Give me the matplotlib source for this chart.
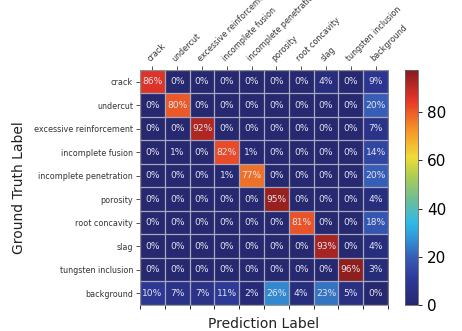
import numpy as np
import matplotlib
matplotlib.use("Agg")
import matplotlib.pyplot as plt
from matplotlib.colors import LinearSegmentedColormap

classes = ["crack", "undercut", "excessive reinforcement", "incomplete fusion",
           "incomplete penetration", "porosity", "root concavity", "slag",
           "tungsten inclusion", "background"]

crack = [86, 0, 0, 0, 0, 0, 0, 4, 0, 9]
undercut = [0, 80, 0, 0, 0, 0, 0, 0, 0, 20]
excessive_reinforcement = [0, 0, 92, 0, 0, 0, 0, 0, 0, 7]
incomplete_fusion = [0, 1, 0, 82, 1, 0, 0, 0, 0, 14]
incomplete_penetration = [0, 0, 0, 1, 77, 0, 0, 0, 0, 20]
porosity = [0, 0, 0, 0, 0, 95, 0, 0, 0, 4]
root_concavity = [0, 0, 0, 0, 0, 0, 81, 0, 0, 18]
slag = [0, 0, 0, 0, 0, 0, 0, 93, 0, 4]
tungsten_inclusion = [0, 0, 0, 0, 0, 0, 0, 0, 96, 3]
background = [10, 7, 7, 11, 2, 26, 4, 23, 5, 0]

matrix = np.array([crack, undercut, excessive_reinforcement, incomplete_fusion,
                   incomplete_penetration, porosity, root_concavity, slag,
                   tungsten_inclusion, background], dtype=float)

# muted jet-style palette
stops = [
    (0.00, (38, 40, 112)),
    (0.11, (46, 58, 152)),
    (0.20, (55, 92, 182)),
    (0.30, (48, 160, 220)),
    (0.35, (48, 185, 230)),
    (0.45, (110, 190, 150)),
    (0.55, (175, 205, 80)),
    (0.63, (240, 220, 55)),
    (0.75, (245, 145, 40)),
    (0.87, (230, 55, 40)),
    (1.00, (135, 28, 30)),
]
cmap = LinearSegmentedColormap.from_list(
    "muted_jet", [(p, tuple(v / 255 for v in c)) for p, c in stops])

fig = plt.figure(figsize=(4.62, 3.31), dpi=100)
ax = fig.add_axes([0.303, 0.079, 0.537, 0.7095])
cax = fig.add_axes([0.877, 0.079, 0.028, 0.7095])

im = ax.imshow(matrix, cmap=cmap, vmin=0, vmax=97.5, aspect="auto")

n = len(classes)
ax.set_xticks(np.arange(n))
ax.set_yticks(np.arange(n))
ax.set_xticklabels(classes, rotation=45, ha="left", rotation_mode="anchor", fontsize=5.8)
ax.set_yticklabels(classes, fontsize=5.8)
ax.xaxis.tick_top()
ax.tick_params(axis="both", length=3, width=0.6, pad=2, colors="#333333")

# cell borders via minor ticks
ax.set_xticks(np.arange(-0.5, n, 1), minor=True)
ax.set_yticks(np.arange(-0.5, n, 1), minor=True)
ax.grid(which="minor", color="#a8a8bc", linewidth=0.9)
ax.tick_params(which="minor", bottom=True, top=False, left=False, length=3, width=0.6)
ax.grid(which="major", visible=False)
for s in ax.spines.values():
    s.set_linewidth(0.6)
    s.set_color("#888888")

for i in range(n):
    for j in range(n):
        ax.text(j, i, f"{int(matrix[i, j])}%", ha="center", va="center",
                fontsize=6.6, color="#e4e4ee")

ax.set_xlabel("Prediction Label", fontsize=10, color="#222222", labelpad=6)
ax.xaxis.set_label_position("bottom")
ax.set_ylabel("Ground Truth Label", fontsize=10, color="#222222", labelpad=6)

cb = fig.colorbar(im, cax=cax)
cb.set_ticks([0, 20, 40, 60, 80])
cb.ax.tick_params(labelsize=11, length=3, width=0.6)
cb.outline.set_linewidth(0.6)
cb.outline.set_edgecolor("#666666")

fig.savefig("out.png", dpi=100)
